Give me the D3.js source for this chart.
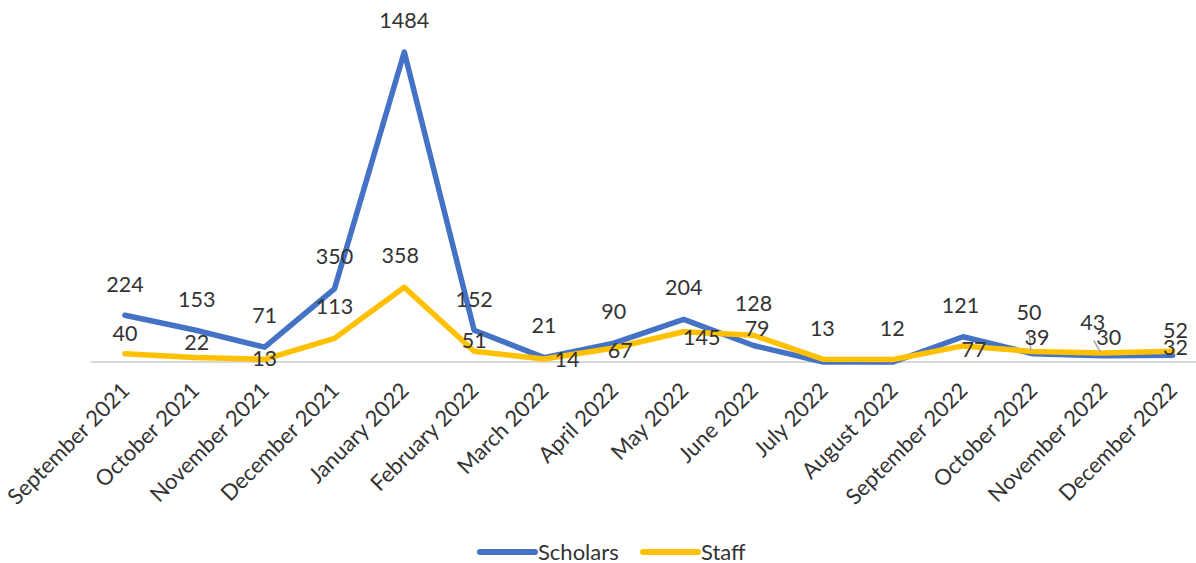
<!DOCTYPE html>
<html>
<head>
<meta charset="utf-8">
<script src="https://cdn.jsdelivr.net/npm/d3@7"></script>
<style>
  html, body { margin: 0; padding: 0; background: #fff; }
  svg { display: block; }
  text { font-family: Lato, "Open Sans", sans-serif; fill: #333; }
</style>
</head>
<body>
<div id="chart"></div>
<script>
// ---- data ----
const categories = ["September 2021","October 2021","November 2021","December 2021","January 2022","February 2022","March 2022","April 2022","May 2022","June 2022","July 2022","August 2022","September 2022","October 2022","November 2022","December 2022"];
const scholars = [224, 153, 71, 350, 1484, 152, 21, 90, 204, 79, null, null, 121, 39, 30, 32];
const staff    = [40, 22, 13, 113, 358, 51, 14, 67, 145, 128, 13, 12, 77, 50, 43, 52];
const seriesNames = ["Scholars", "Staff"];
const seriesColors = ["#4472C4", "#FFC000"];

// label placement offsets (layout only), [dx, dy] from point to label centre
const scholarsLabelOffset = [[0,-31],[2,-31],[0,-31.5],[0,-33],[0,-32],[0,-31],[0,-32],[0,-31.5],[0,-31.7],[3.6,-17],null,null,[-2.5,-31],[4,-16.6],[6,-18],[3,-8]];
const staffLabelOffset    = [[0,-20.5],[2,-15],[0,-1],[0,-31.7],[-4,-32],[0,-11],[23,0],[6.5,2],[18,5.6],[0,-32],[-1,-31],[-1,-31],[11,3.4],[-4,-39],[-10,-31],[3,-21]];
// leader lines: index -> [start dx, start dy] relative to label centre
const scholarsLeaders = {13: [-8, -6.5], 14: [-15, 2.7]};

const W = 1196, H = 563;
const svg = d3.select("#chart").append("svg").attr("width", W).attr("height", H);

const x = d3.scalePoint().domain(categories).range([90, 1207.5]).padding(0.5);
const y = d3.scaleLinear().domain([0, 1600]).range([362, 27.8]);

// x axis line
svg.append("line")
  .attr("x1", 91).attr("x2", W).attr("y1", y(0)).attr("y2", y(0))
  .attr("stroke", "#d9d9d9").attr("stroke-width", 2);

// x axis labels
const axisFs = 22;
svg.append("g").selectAll("text").data(categories).join("text")
  .attr("transform", d => `translate(${x(d) + 6},${392}) rotate(-45)`)
  .attr("text-anchor", "end")
  .attr("font-size", axisFs)
  .text(d => d);

const series = [
  {name: seriesNames[0], color: seriesColors[0], values: scholars, offs: scholarsLabelOffset, leaders: scholarsLeaders},
  {name: seriesNames[1], color: seriesColors[1], values: staff, offs: staffLabelOffset, leaders: {}}
];

const line = d3.line()
  .x((d, i) => x(categories[i]))
  .y(d => y(d == null ? 0 : d));

series.forEach(s => {
  svg.append("path")
    .datum(s.values)
    .attr("d", line)
    .attr("fill", "none")
    .attr("stroke", s.color)
    .attr("stroke-width", 5.5)
    .attr("stroke-linejoin", "round")
    .attr("stroke-linecap", "round");
});

// data labels
const labFs = 21.5;
series.forEach(s => {
  const g = svg.append("g");
  s.values.forEach((v, i) => {
    if (v == null || !s.offs[i]) return;
    const px = x(categories[i]), py = y(v);
    const cx = px + s.offs[i][0], cy = py + s.offs[i][1];
    if (s.leaders[i]) {
      g.append("line")
        .attr("x1", cx + s.leaders[i][0]).attr("y1", cy + s.leaders[i][1])
        .attr("x2", px - 2).attr("y2", py - 3)
        .attr("stroke", "#a6a6a6").attr("stroke-width", 1.5);
    }
    g.append("text")
      .attr("x", cx).attr("y", cy + 0.36 * labFs)
      .attr("text-anchor", "middle")
      .attr("font-size", labFs)
      .text(v);
  });
});

// legend
const legend = svg.append("g");
const legX = [480, 643];
series.forEach((s, i) => {
  legend.append("line")
    .attr("x1", legX[i]).attr("x2", legX[i] + 55)
    .attr("y1", 552).attr("y2", 552)
    .attr("stroke", s.color).attr("stroke-width", 6).attr("stroke-linecap", "round");
  legend.append("text")
    .attr("x", legX[i] + 58).attr("y", 559.5)
    .attr("font-size", 22)
    .text(s.name);
});
</script>
</body>
</html>
